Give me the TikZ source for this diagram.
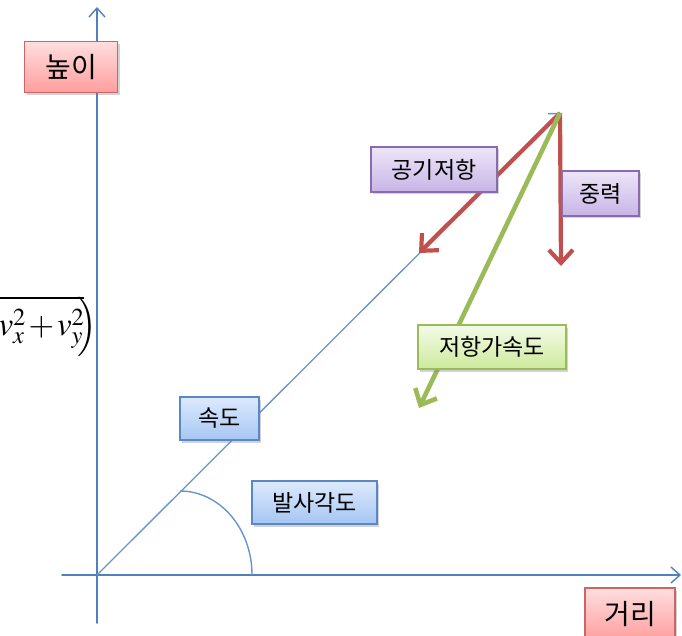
\documentclass[tikz,border=0pt]{standalone}
\usepackage{mathptmx}
\usepackage{fontspec}
\usetikzlibrary{arrows.meta,shadows}
\newfontfamily\kr{Noto Sans CJK KR}
\definecolor{axisblue}{HTML}{4F81BD}
\definecolor{arrred}{HTML}{C0504D}
\definecolor{arrgreen}{HTML}{9BBB59}
\definecolor{redtop}{HTML}{FFDEDE}
\definecolor{redbot}{HTML}{FF9E9E}
\definecolor{redline}{HTML}{CC6666}
\definecolor{purtop}{HTML}{EDE6F8}
\definecolor{purbot}{HTML}{C8B4E6}
\definecolor{purline}{HTML}{8A6BB0}
\definecolor{grntop}{HTML}{F4FBE8}
\definecolor{grnbot}{HTML}{CDEA9C}
\definecolor{grnline}{HTML}{9BBB59}
\definecolor{blutop}{HTML}{DDEAFD}
\definecolor{blubot}{HTML}{A6C6F3}
\definecolor{bluline}{HTML}{5A88C6}
\tikzset{
  axisline/.style={axisblue, line width=1.6pt, line cap=round},
  velline/.style={axisblue!85, line width=1.3pt},
  forcearrow/.style={line width=4.2pt, -{Straight Barb[length=13pt,width=24pt]}},
  lbl/.style={inner sep=0pt, font=\kr\fontsize{23}{23}\selectfont, line width=1.5pt,
    drop shadow={opacity=0.35, shadow xshift=2pt, shadow yshift=-2.5pt}},
  redbox/.style={lbl, draw=redline, top color=redtop, bottom color=redbot,
    font=\kr\fontsize{28}{28}\selectfont},
  purplebox/.style={lbl, draw=purline, top color=purtop, bottom color=purbot},
  greenbox/.style={lbl, draw=grnline, top color=grntop, bottom color=grnbot},
  bluebox/.style={lbl, draw=bluline, top color=blutop, bottom color=blubot},
}
\begin{document}
\begin{tikzpicture}[x=1pt,y=-1pt]
\useasboundingbox (0,0) rectangle (682,636);
\clip (0,0) rectangle (682,636);
% axes
\coordinate (O) at (97,575);
\coordinate (ytop) at (97,7);
\coordinate (ybot) at (97,623);
\coordinate (xleft) at (62,575);
\coordinate (xright) at (681,575);
\coordinate (P) at (560,113);
\coordinate (drag) at (419,253);
\coordinate (grav) at (561,266);
\coordinate (acc) at (419,408);
\coordinate (arcA) at (252,575);
\draw[axisline, -{Straight Barb[length=9pt,width=16pt,line width=1.4pt]}] (ybot) -- (ytop);
\draw[axisline, -{Straight Barb[length=9pt,width=16pt,line width=1.4pt]}] (xleft) -- (xright);
% velocity
\draw[velline, -{Straight Barb[length=8pt,width=16pt]}] (O) -- (P);
% launch angle arc (quarter ellipse)
\draw[axisblue!85, line width=1.4pt] (arcA) arc[start angle=0, end angle=90, x radius=72, y radius=-84];
% force arrows
\draw[forcearrow, arrred] (P) -- (drag);
\draw[forcearrow, arrred] (P) -- (grav);
\draw[forcearrow, arrgreen, line width=4.6pt] (P) -- (acc);
% formula (partly cut off at the left edge)
\node[anchor=base east, inner sep=0pt, font=\fontsize{33}{33}\selectfont] (formula) at (97,335)
  {\medmuskip=1.5mu$\left(\sqrt{v_x^2+v_y^2}\mkern-4mu\right)$};
% labels
\node[redbox, minimum width=93pt, minimum height=51pt] (height) at (71,67) {높이};
\node[redbox, minimum width=90pt, minimum height=52pt] (dist) at (630,614) {거리};
\node[purplebox, minimum width=126pt, minimum height=45pt] (air) at (434,169.5) {공기저항};
\node[purplebox, minimum width=77pt, minimum height=45pt] (gravity) at (600.5,193.5) {중력};
\node[greenbox, minimum width=148pt, minimum height=44pt] (dragacc) at (492,347) {저항가속도};
\node[bluebox, minimum width=79pt, minimum height=43pt] (speed) at (219.5,418.5) {속도};
\node[bluebox, minimum width=125pt, minimum height=43pt] (angle) at (314.5,502.5) {발사각도};
\end{tikzpicture}
\end{document}
